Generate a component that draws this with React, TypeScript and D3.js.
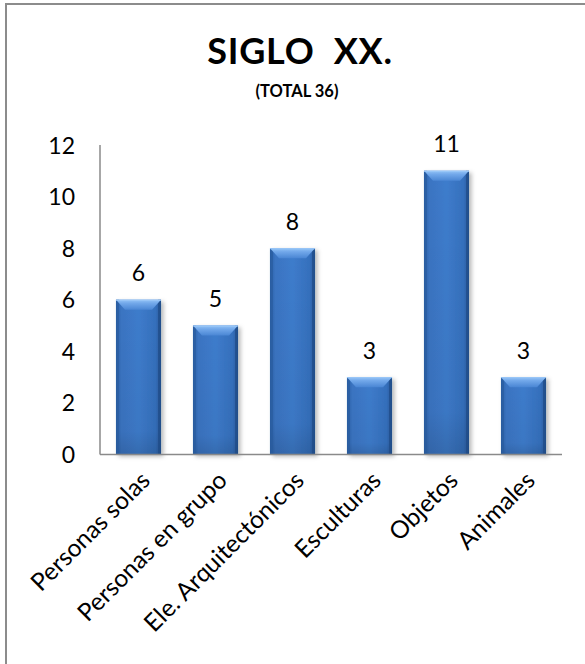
import React from "react";
import * as d3 from "d3";

// Chart data
const categories = [
  "Personas solas",
  "Personas en grupo",
  "Ele. Arquitectónicos",
  "Esculturas",
  "Objetos",
  "Animales",
];
const values = [6, 5, 8, 3, 11, 3];
const yTicks = [0, 2, 4, 6, 8, 10, 12];
const title = "SIGLO  XX.";
const subtitle = "(TOTAL 36)";

const W = 585;
const H = 664;
const FONT = "Lato, 'Open Sans', sans-serif";

export default function App() {
  const x = d3
    .scaleBand<string>()
    .domain(categories)
    .range([100, 562])
    .paddingInner(0.415)
    .paddingOuter(0.2075);
  const y = d3.scaleLinear().domain([0, 12]).range([454.5, 145]);
  const bw = x.bandwidth();
  const axisColor = "#8a8a8a";

  return (
    <svg
      width={W}
      height={H}
      style={{ position: "absolute", left: 0, top: 0, background: "#fff" }}
    >
      <defs>
        <linearGradient id="barBody" x1="0" x2="1" y1="0" y2="0">
          <stop offset="0" stopColor="#2d62a8" />
          <stop offset="0.12" stopColor="#3a74c2" />
          <stop offset="0.5" stopColor="#3e7ccc" />
          <stop offset="0.88" stopColor="#3570bd" />
          <stop offset="1" stopColor="#27579a" />
        </linearGradient>
        <linearGradient id="barShade" x1="0" x2="0" y1="0" y2="1">
          <stop offset="0" stopColor="#000" stopOpacity="0" />
          <stop offset="0.85" stopColor="#000" stopOpacity="0.04" />
          <stop offset="1" stopColor="#000" stopOpacity="0.14" />
        </linearGradient>
        <linearGradient id="bevelTop" x1="0" x2="0" y1="0" y2="1">
          <stop offset="0" stopColor="#94c4f7" />
          <stop offset="0.35" stopColor="#72a8ea" />
          <stop offset="1" stopColor="#4a86d4" />
        </linearGradient>
        <filter id="shadow" x="-30%" y="-10%" width="160%" height="130%">
          <feDropShadow
            dx="2.5"
            dy="2"
            stdDeviation="2.2"
            floodColor="#000"
            floodOpacity="0.28"
          />
        </filter>
      </defs>

      {/* outer frame (top and left edges) */}
      <line x1={5} y1={4} x2={W} y2={4} stroke="#8c8c8c" strokeWidth={2} />
      <line x1={6} y1={3} x2={6} y2={H} stroke="#8c8c8c" strokeWidth={2} />

      {/* titles */}
      <text
        x={300}
        y={64}
        textAnchor="middle"
        fontFamily={FONT}
        fontWeight={700}
        fontSize={36}
        letterSpacing={0.8}
        fill="#000"
        style={{ whiteSpace: "pre" }}
      >
        {title}
      </text>
      <text
        x={297}
        y={97}
        textAnchor="middle"
        fontFamily={FONT}
        fontWeight={700}
        fontSize={16.5}
        fill="#000"
      >
        {subtitle}
      </text>

      {/* y tick labels */}
      {yTicks.map((t) => (
        <text
          key={t}
          x={75}
          y={y(t) + 8.5}
          textAnchor="end"
          fontFamily={FONT}
          fontSize={23}
          fill="#000"
        >
          {t}
        </text>
      ))}

      {/* bars */}
      {categories.map((c, i) => {
        const x0 = x(c)!;
        const top = y(values[i]);
        const base = y(0);
        const h = base - top;
        const bv = Math.min(10, h / 2);
        const side = 3;
        return (
          <g key={c}>
            <rect
              x={x0}
              y={top}
              width={bw}
              height={h}
              fill="url(#barBody)"
              filter="url(#shadow)"
            />
            <rect x={x0} y={top} width={bw} height={h} fill="url(#barShade)" />
            {/* side edges */}
            <rect
              x={x0}
              y={top}
              width={side}
              height={h}
              fill="#2a5da0"
              opacity={0.7}
            />
            <rect
              x={x0 + bw - side}
              y={top}
              width={side}
              height={h}
              fill="#1f4b86"
              opacity={0.7}
            />
            {/* top bevel */}
            <polygon
              points={[
                [x0, top],
                [x0 + bw, top],
                [x0 + bw - side - 6, top + bv],
                [x0 + side + 6, top + bv],
              ]
                .map((p) => p.join(","))
                .join(" ")}
              fill="url(#bevelTop)"
            />
            <line
              x1={x0}
              x2={x0 + bw}
              y1={top + 0.5}
              y2={top + 0.5}
              stroke="#9cc8f8"
              strokeWidth={1}
            />
          </g>
        );
      })}

      {/* value labels */}
      {categories.map((c, i) => (
        <text
          key={c}
          x={x(c)! + bw / 2}
          y={y(values[i]) - 18.5}
          textAnchor="middle"
          fontFamily={FONT}
          fontSize={23}
          fill="#000"
        >
          {values[i]}
        </text>
      ))}

      {/* axes */}
      <line
        x1={100}
        x2={100}
        y1={y(12)}
        y2={y(0)}
        stroke={axisColor}
        strokeWidth={1.5}
      />
      <line
        x1={100}
        x2={562}
        y1={y(0)}
        y2={y(0)}
        stroke={axisColor}
        strokeWidth={1.5}
      />

      {/* category labels */}
      {categories.map((c) => {
        const cx = x(c)! + bw / 2;
        return (
          <text
            key={c}
            transform={`translate(${cx + 13},${482}) rotate(-45)`}
            textAnchor="end"
            fontFamily={FONT}
            fontSize={24.5}
            fill="#000"
          >
            {c}
          </text>
        );
      })}
    </svg>
  );
}
